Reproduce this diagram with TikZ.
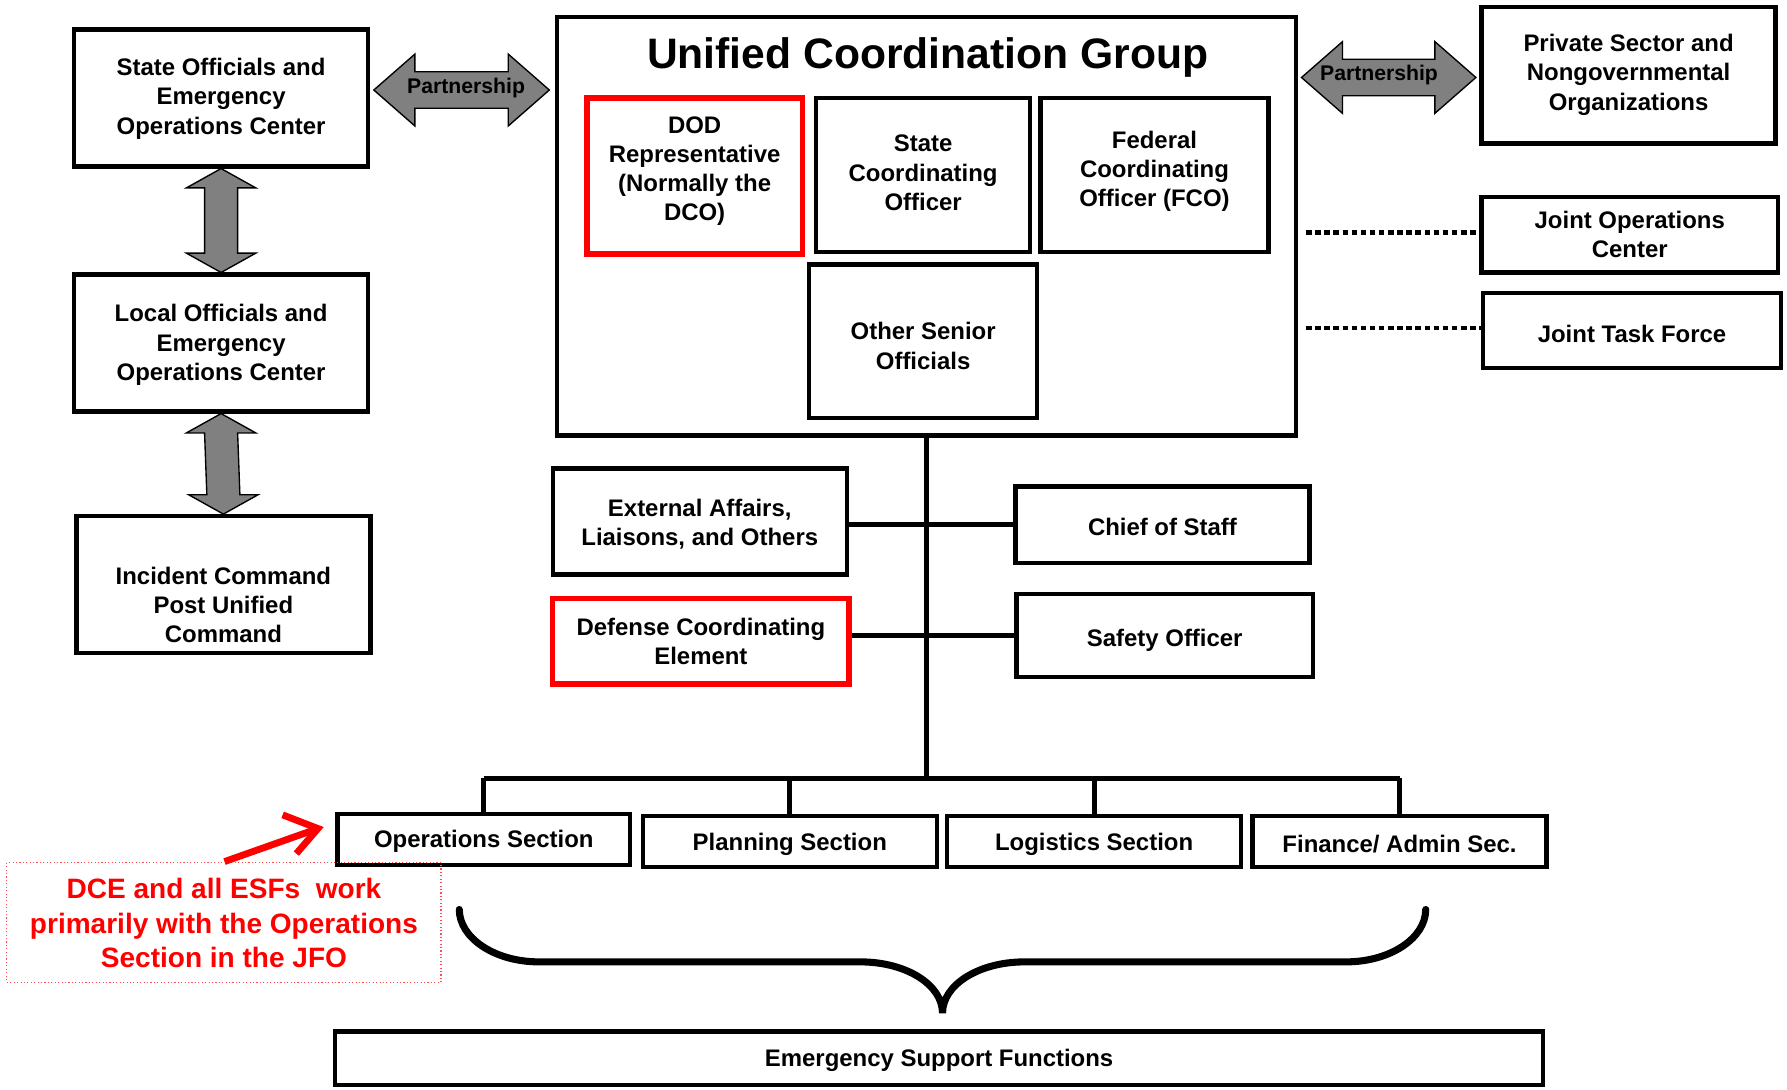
\documentclass[tikz,border=0pt]{standalone}
\usepackage{fontspec}
\setmainfont{Liberation Sans}
\usetikzlibrary{calc}
\definecolor{rd}{RGB}{255,0,0}
\definecolor{gr}{RGB}{128,128,128}
\tikzset{
  box/.style={draw=black, line width=1.9pt},
  rbox/.style={draw=rd, line width=2.4pt},
  notebox/.style={draw=rd!70, line width=0.5pt, densely dotted},
  txt/.style={font=\bfseries\fontsize{10.5}{12.8}\selectfont, align=center, inner sep=0pt, yshift=-1.3pt},
  redtxt/.style={font=\bfseries\fontsize{12.3}{15}\selectfont, align=center, inner sep=0pt, text=rd},
  ptxt/.style={font=\bfseries\fontsize{9.3}{11}\selectfont, inner sep=0pt},
  ttl/.style={font=\bfseries\fontsize{18.7}{22}\selectfont, inner sep=0pt, anchor=base},
  blk/.style={fill=gr, draw=black, line width=0.6pt, line join=miter},
  ln/.style={draw=black, line width=2.2pt},
  dotl/.style={draw=black, line width=1.8pt, dash pattern=on 2.4pt off 1.6pt},
  brc/.style={draw=black, line width=3.1pt, line cap=round},
}
\newcommand{\boxn}[8]{%
  \node[#8, minimum width={(#4-#2)*0.5pt}, minimum height={(#5-#3)*0.5pt}, inner sep=0pt] (#1) at ({(#2+#4)/2},{(#3+#5)/2}) {};
  \node[txt] (#1-t) at ({(#2+#4)/2},#6) {#7};
}
\begin{document}
\begin{tikzpicture}[x=0.5pt,y=-0.5pt]
\useasboundingbox (0,0) rectangle (1568,956);

% left column
\boxn{state}{65}{26}{323}{146}{84}{State Officials and\\Emergency\\Operations Center}{box}
\boxn{local}{65}{241}{323}{361}{300}{Local Officials and\\Emergency\\Operations Center}{box}
\boxn{inc}{67}{453}{325}{573}{528}{Incident Command\\Post Unified\\Command}{box}

% unified coordination group
\node[box, minimum width={648*0.5pt}, minimum height={367*0.5pt}, inner sep=0pt] (ucg) at (813,198.5) {};
\node[ttl] (ucg-t) at (814,60) {Unified Coordination Group};
\boxn{dod}{515}{86}{704}{223}{147.5}{DOD\\Representative\\(Normally the\\DCO)}{rbox}
\boxn{sco}{716}{86}{904}{221}{149}{State\\Coordinating\\Officer}{box}
\boxn{fco}{913}{86}{1113}{221}{148}{Federal\\Coordinating\\Officer (FCO)}{box}
\boxn{oso}{710}{232}{910}{367}{301}{Other Senior\\Officials}{box}

% right column
\boxn{priv}{1300}{6}{1558}{126}{63}{Private Sector and\\Nongovernmental\\Organizations}{box}
\boxn{joc}{1300}{173}{1560}{239}{203}{Joint Operations\\Center}{box}
\boxn{jtf}{1301}{257}{1563}{323}{290}{Joint Task Force}{box}

% staff
\boxn{ext}{485}{411}{743}{504}{457}{External Affairs,\\Liaisons, and Others}{box}
\boxn{chief}{891}{427}{1149}{494}{460}{Chief of Staff}{box}
\boxn{dce}{485}{525}{745}{600}{560}{Defense Coordinating\\Element}{rbox}
\boxn{safety}{892}{521}{1152}{594}{559}{Safety Officer}{box}

% sections
\boxn{ops}{296}{714}{553}{759}{736}{Operations Section}{box}
\boxn{plan}{564}{716}{822}{761}{738}{Planning Section}{box}
\boxn{logi}{831}{716}{1089}{761}{738}{Logistics Section}{box}
\boxn{fin}{1099}{716}{1357}{761}{738}{Finance/ Admin Sec.}{box}
\boxn{esf}{294}{905}{1354}{952}{928}{Emergency Support Functions}{box}

% note
\node[notebox, minimum width={381*0.5pt}, minimum height={105*0.5pt}, inner sep=0pt] (note) at (196.5,809.5) {};
\node[redtxt] (note-t) at (196.5,810) {DCE and all ESFs\ \ work\\primarily with the Operations\\Section in the JFO};

% vertical block arrows
\draw[blk] (state.south) -- ++(30.5,17) -- ++(-16,0) -- ($(local.north)+(14.5,-17)$) -- ++(16,0) -- (local.north) -- ++(-30.5,-17) -- ++(16,0) -- ($(state.south)+(-14.5,17)$) -- ++(-16,0) -- cycle;
\draw[blk] (local.south) -- ++(30.5,17) -- ++(-16,0) -- ($(inc.north)+(14.5,-17)$) -- ++(16,0) -- (inc.north) -- ++(-30.5,-17) -- ++(16,0) -- ($(local.south)+(-14.5,17)$) -- ++(-16,0) -- cycle;

% partnership arrows
\coordinate (p1l) at (328,79);
\coordinate (p1r) at (482,79);
\draw[blk] (p1l) -- (364,47.5) -- (364,63) -- (446,63) -- (446,47.5) -- (p1r) -- (446,110.5) -- (446,95) -- (364,95) -- (364,110.5) -- cycle;
\node[ptxt] (p1t) at (409,77) {Partnership};
\coordinate (p2l) at (1142,68);
\coordinate (p2r) at (1295,68);
\draw[blk] (p2l) -- (1178,36.5) -- (1178,52) -- (1259,52) -- (1259,36.5) -- (p2r) -- (1259,99.5) -- (1259,84) -- (1178,84) -- (1178,99.5) -- cycle;
\node[ptxt] (p2t) at (1210,66) {Partnership};

% dotted links
\coordinate (d1) at (1146,204);
\coordinate (d2) at (1146,288);
\draw[dotl] (d1) -- (d1 -| joc.west);
\draw[dotl] (d2) -- (d2 -| jtf.west);

% trunk and branches
\coordinate (bus) at (811,683);
\draw[ln] (ucg.south) -- (ucg.south |- bus);
\draw[ln] (chief.west) -- (chief.west -| ext.east);
\draw[ln] (safety.west) -- (safety.west -| dce.east);
\draw[ln] (ops.north |- bus) -- (fin.north |- bus);
\draw[ln] (ops.north) -- (ops.north |- bus);
\draw[ln] (plan.north) -- (plan.north |- bus);
\draw[ln] (logi.north) -- (logi.north |- bus);
\draw[ln] (fin.north) -- (fin.north |- bus);

% brace
\draw[brc] (403,798) .. controls (403,823) and (434,844) .. (473,844) -- (755,844)
  .. controls (795,844) and (827,864) .. (827,889)
  .. controls (827,864) and (859,844) .. (899,844) -- (1181,844)
  .. controls (1220,844) and (1251,823) .. (1251,798);

% red arrow
\coordinate (rtail) at (197,756);
\coordinate (rtip) at (279,727);
\draw[rd, line width=3pt] (rtail) -- (rtip);
\draw[rd, line width=3pt, line join=miter] ($(rtip)+(-31,-12)$) -- (rtip) -- ($(rtip)+(-19,22)$);
\end{tikzpicture}
\end{document}
